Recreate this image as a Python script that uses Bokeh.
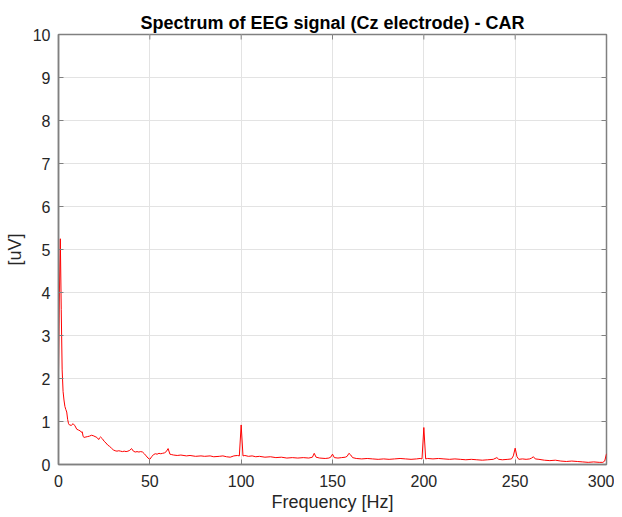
import math
from bokeh.plotting import figure
from bokeh.models import Range1d, FixedTicker
from bokeh.embed import file_html
from bokeh.resources import INLINE

freq = [0, 0.5, 1, 1.5, 2, 2.5, 3, 3.5, 4, 4.5, 5, 5.5, 6, 7, 8, 9, 10, 11, 12, 12.5, 13, 13.5, 14, 15, 16, 17, 18, 19,
        20, 21, 22, 22.5, 23, 24, 25, 26, 27, 28, 29, 30, 31, 32, 33, 34, 35, 36, 37, 38, 39, 40, 41, 42, 43, 44, 45,
        46, 47, 48, 49, 50, 51, 52, 53, 54, 55, 56, 57, 58, 59, 60, 61, 62, 63, 65, 67, 70, 72, 75, 78, 80, 83, 85,
        88, 90, 92, 94, 96, 98, 99, 100, 101, 102, 104, 106, 108, 110, 113, 116, 119, 122, 125, 128, 131, 134, 137,
        139, 140, 141, 143, 146, 148, 149, 150, 151, 153, 155, 157, 158, 159, 160, 161, 163, 166, 169, 172, 175, 178,
        181, 184, 187, 190, 193, 196, 198, 199, 200, 201, 202, 205, 208, 211, 214, 217, 220, 223, 226, 229, 232, 235,
        238, 240, 241, 243, 246, 248, 249, 250, 251, 252, 254, 256, 258, 259, 260, 261, 263, 266, 269, 272, 275, 278,
        281, 284, 287, 290, 293, 296, 298, 299, 300]
amplitude = [2.15, 4.0, 5.25, 3.6, 2.2, 1.7, 1.5, 1.35, 1.28, 1.22, 1.05, 0.95, 0.92, 0.91, 0.95, 0.9, 0.82, 0.8, 0.78,
             0.75, 0.76, 0.65, 0.63, 0.64, 0.65, 0.66, 0.68, 0.67, 0.65, 0.63, 0.58, 0.62, 0.64, 0.6, 0.54, 0.5, 0.45,
             0.42, 0.38, 0.34, 0.32, 0.31, 0.32, 0.31, 0.3, 0.31, 0.3, 0.31, 0.33, 0.37, 0.31, 0.29, 0.3, 0.29, 0.3,
             0.29, 0.25, 0.2, 0.15, 0.12, 0.18, 0.23, 0.25, 0.24, 0.26, 0.25, 0.26, 0.27, 0.3, 0.37, 0.24, 0.23, 0.22,
             0.21, 0.22, 0.2, 0.21, 0.19, 0.2, 0.19, 0.2, 0.18, 0.19, 0.2, 0.18, 0.17, 0.2, 0.21, 0.2, 0.92, 0.2, 0.21,
             0.19, 0.2, 0.18, 0.19, 0.17, 0.18, 0.16, 0.17, 0.15, 0.16, 0.15, 0.16, 0.15, 0.17, 0.26, 0.17, 0.15, 0.14,
             0.15, 0.17, 0.24, 0.16, 0.15, 0.16, 0.17, 0.19, 0.26, 0.22, 0.16, 0.14, 0.13, 0.14, 0.13, 0.12, 0.13,
             0.12, 0.13, 0.14, 0.13, 0.12, 0.13, 0.14, 0.13, 0.86, 0.13, 0.14, 0.13, 0.14, 0.13, 0.12, 0.13, 0.12,
             0.11, 0.12, 0.11, 0.1, 0.11, 0.12, 0.16, 0.12, 0.11, 0.12, 0.13, 0.2, 0.38, 0.18, 0.12, 0.13, 0.12, 0.13,
             0.15, 0.18, 0.13, 0.12, 0.1, 0.09, 0.1, 0.08, 0.07, 0.08, 0.07, 0.06, 0.05, 0.06, 0.05, 0.05, 0.08, 0.25]

x_ticks = [0, 50, 100, 150, 200, 250, 300]
y_ticks = [0, 1, 2, 3, 4, 5, 6, 7, 8, 9, 10]
x_max = 300
y_max = 10

FONT = "Liberation Sans"
AX = "#808080"
TXT = "#262626"

p = figure(width=614, height=516, output_backend="svg", toolbar_location=None,
           x_range=Range1d(0, x_max), y_range=Range1d(0, y_max),
           min_border_left=58, min_border_right=8, min_border_top=34, min_border_bottom=52,
           title="Spectrum of EEG signal (Cz electrode) - CAR",
           x_axis_label="Frequency [Hz]", y_axis_label="[uV]")

p.title.align = "center"
p.title.text_font = FONT
p.title.text_font_size = "18px"
p.title.text_font_style = "bold"
p.title.text_color = "#000000"
p.title.standoff = 4

p.outline_line_color = AX
p.outline_line_width = 1.5
p.background_fill_color = "white"
p.border_fill_color = "white"

for ax, ticks in ((p.xaxis[0], x_ticks), (p.yaxis[0], y_ticks)):
    ax.ticker = FixedTicker(ticks=ticks)
    ax.axis_line_color = AX
    ax.axis_line_width = 1.5
    ax.major_tick_in = 5
    ax.major_tick_out = 0
    ax.major_tick_line_color = AX
    ax.minor_tick_line_color = None
    ax.major_label_text_font = FONT
    ax.major_label_text_font_size = "16px"
    ax.major_label_text_color = TXT
    ax.axis_label_text_font = FONT
    ax.axis_label_text_font_size = "18px"
    ax.axis_label_text_font_style = "normal"
    ax.axis_label_text_color = TXT

p.xaxis.major_label_standoff = 10
p.xaxis.axis_label_standoff = 2
p.yaxis.major_label_standoff = 8
p.yaxis.axis_label_standoff = 5

# inward ticks on the top and right edges of the box (half of each dash is clipped by the frame)
p.scatter(x=x_ticks, y=[y_max] * len(x_ticks), marker="dash", angle=math.pi / 2, size=10,
          line_color=AX, line_width=1)
p.scatter(x=[x_max] * len(y_ticks), y=y_ticks, marker="dash", size=10,
          line_color=AX, line_width=1)

p.xgrid.ticker = FixedTicker(ticks=x_ticks)
p.ygrid.ticker = FixedTicker(ticks=y_ticks)
p.grid.grid_line_color = "#e3e3e3"
p.grid.grid_line_width = 1

p.line(freq, amplitude, line_color="#ff0000", line_width=1)

open("out.html", "w").write(file_html(p, INLINE))
